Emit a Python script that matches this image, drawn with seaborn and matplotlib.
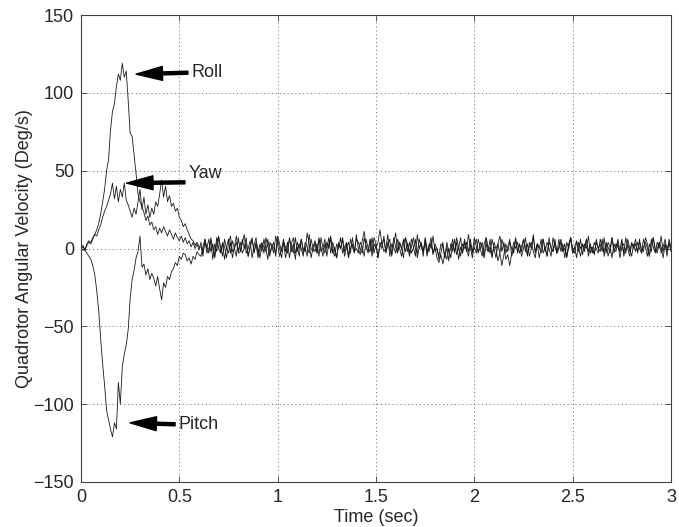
import numpy as np
import pandas as pd
import matplotlib
matplotlib.use("Agg")
import matplotlib.pyplot as plt
import seaborn as sns

DT = 0.01  # sampling interval (sec)

# Transient part, t = 0.00 .. 0.60
roll_transient = [0, 1, -1, 2, 4, 3, 6, 9, 12, 16, 22, 30, 38, 50, 57, 76, 88, 93, 104, 112,
                  108, 119, 110, 114, 95, 74, 72, 60, 48, 35, 30, 27, 23, 18, 21, 15, 17, 12, 14, 9,
                  13, 10, 14, 11, 8, 12, 9, 6, 10, 7, 5, 8, 4, 7, 3, 5, 1, 4, 0, 3, -1]
pitch_transient = [0, -1, -1, -3, -5, -7, -11, -17, -27, -40, -58, -74, -88, -104, -110, -116, -121, -112, -116, -86,
                   -100, -76, -68, -62, -52, -32, -20, -14, -6, -2, 8, -12, -10, -17, -13, -20, -16, -19, -24, -18,
                   -26, -33, -22, -25, -18, -20, -15, -13, -9, -11, -5, -7, -3, -4, -8, -6, -10, -5, -7, -2, -4]
yaw_transient = [0, 2, -1, 3, 5, 4, 7, 9, 8, 12, 15, 20, 24, 27, 31, 35, 42, 32, 40, 30,
                 38, 33, 42, 31, 28, 24, 20, 26, 22, 30, 38, 25, 33, 22, 28, 20, 26, 22, 30, 27,
                 35, 44, 33, 40, 30, 34, 27, 29, 24, 26, 20, 18, 14, 16, 12, 9, 6, 5, 2, 4, 1]

# Steady-state part, t = 0.61 .. 3.00
roll_steady = [4, -5, 6, 1, -3, 7, 0, -6, 4, 8, -2, 3, -7, 1, 6, -3, 5, 0, -5, 7,
               -2, 3, 9, -3, 0, 5, -6, 2, 7, -4, 3, -2, 6, 0, -7, 4, 1, -3, 8, 2,
               -5, 0, 6, -2, 4, -6, 3, 7, -3, 1, -5, 6, 0, -2, 10, 3, -6, 1, 5, -3,
               7, -2, 0, 6, -5, 3, 8, -3, 1, -6, 4, 0, 7, -2, 3, -5, 6, 1, -3, 9,
               0, -4, 5, 11, 1, -3, 6, -2, 7, 3, -6, 4, 0, 8, -3, 2, 6, -5, 3, 10,
               -2, 4, 0, -6, 7, 3, -3, 6, 1, -5, 9, 0, 4, -2, 6, -3, 1, 7, -4, 3,
               0, -7, -3, 4, -6, 1, -8, 3, -2, 6, -4, 0, 7, -3, 4, -2, 9, 1, -6, 3,
               6, -2, 0, 4, -5, 7, 1, -3, 6, 0, -6, 3, 8, -2, 4, -3, 1, 6, -5, 0,
               7, -3, 3, -2, 6, 1, -5, 4, 0, 9, -3, 3, -6, 1, 6, -2, 4, 0, -5, 7,
               1, -3, 6, -2, 3, -6, 4, 0, 7, -3, 1, 5, -2, 6, -4, 3, 0, 8, -3, 1,
               -4, 6, 0, 3, -2, 7, -3, 4, 1, -6, 3, 0, 6, -2, 5, -3, 7, 0, -5, 3,
               1, 6, -3, 4, 0, -2, 7, 3, -5, 6, 1, -3, 4, 0, 8, -2, 3, -5, 6, 1]
pitch_steady = [-5, 1, 6, -3, 0, 5, -7, 3, -2, 7, 1, -5, 6, 0, -3, 4, -6, 1, 8, -2,
                4, -3, 0, 7, -5, 1, 6, -2, 3, -6, 0, 4, -3, 7, 1, -5, 3, 0, -2, 6,
                0, -6, 4, 1, -3, 7, -2, 3, -7, 4, 0, 6, -3, 1, -5, 9, 0, -2, 4, -3,
                6, 1, -5, 3, 0, 7, -3, 4, -2, -6, 3, 0, 6, -5, 1, 4, -3, 7, -2, 0,
                -3, 4, 1, -5, 6, 0, -2, 7, -3, 3, -6, 1, 4, -2, 0, 9, -5, 3, 1, -3,
                6, 0, -5, 3, 7, -2, 4, -3, 0, 6, -6, 1, 3, -5, 7, 0, -2, 4, -3, 1,
                -6, -9, -4, -10, -3, -7, 0, -6, 3, -2, 4, -7, 1, -3, 6, 0, -5, 3, -2, 7,
                1, -3, 4, 0, -6, 3, -2, 6, -5, 1, 0, -8, -3, -11, -4, 3, -2, 4, 0, -3,
                6, -2, 3, -5, 0, 7, -3, 1, 4, -2, -6, 3, 0, 6, -3, 1, -5, 7, 0, -2,
                4, -3, 1, 6, -2, 0, -5, 3, 7, -3, 1, -6, 4, 0, 3, -2, 6, -5, 1, 0,
                -3, 4, 0, -2, 6, -5, 3, 1, -3, 7, 0, -2, 4, -6, 1, 3, -3, 6, 0, -5,
                3, -2, 4, 0, -3, 6, 1, -5, 3, -2, 7, 0, -3, 4, 1, -6, 3, 0, 4, -2]
yaw_steady = [1, -3, 4, 0, 6, -2, 3, -5, 7, 0, -3, 4, 1, -6, 3, 8, -2, 0, 4, -3,
              -2, 6, 0, 3, -5, 1, 7, -3, 4, 0, -6, 3, 1, -2, 6, -3, 0, 4, -5, 8,
              3, -2, 4, -6, 0, 6, 1, -3, 7, -2, 3, 0, -5, 4, 1, -3, 6, 0, -2, 3,
              -5, 7, 1, -3, 4, 0, 6, -2, -5, 3, 0, 7, -3, 1, 4, -6, 0, 3, -2, 6,
              4, 0, -3, 7, 1, -2, 6, -5, 3, 0, 4, 12, 3, 6, -2, 4, 0, -3, 7, 1,
              -3, 4, 0, 6, -2, 3, -5, 1, 7, 0, -3, 6, 1, -2, 4, -5, 3, 0, 8, -2,
              0, -5, 3, 1, -6, 4, -2, 0, 6, -3, 7, 1, -5, 3, 0, 4, -2, 6, -3, 1,
              -3, 6, 0, -5, 3, 7, -2, 1, -6, 4, 0, 3, -3, 6, 1, -7, -4, -11, -3, 4,
              0, 4, -3, 1, 6, -2, 3, -5, 0, 7, -2, 3, 1, -3, 6, 0, -5, 4, 1, -2,
              6, -3, 0, 4, -2, 3, -6, 1, 7, 0, -3, 4, 1, -5, 3, 0, 6, -2, 3, -3,
              4, 0, -3, 6, 1, -2, 4, -5, 0, 7, -3, 3, 1, -2, 6, -5, 0, 3, -2, 4,
              0, 3, -2, 6, -3, 1, 4, 0, -5, 3, 7, -2, 0, 4, -3, 1, 6, -2, 3, 0]

series_names = ["Roll", "Pitch", "Yaw"]
x_ticks = [0, 0.5, 1, 1.5, 2, 2.5, 3]
x_tick_labels = ["0", "0.5", "1", "1.5", "2", "2.5", "3"]
y_ticks = [-150, -100, -50, 0, 50, 100, 150]

# annotation anchors (data coords): arrow tip, text position
annotations = [("Roll", (0.28, 112), (0.56, 113)),
               ("Yaw", (0.232, 42), (0.545, 48)),
               ("Pitch", (0.249, -112), (0.495, -113))]

values = {"Roll": roll_transient + roll_steady,
          "Pitch": pitch_transient + pitch_steady,
          "Yaw": yaw_transient + yaw_steady}
frames = []
for name in series_names:
    v = values[name]
    frames.append(pd.DataFrame({"time": np.arange(len(v)) * DT, "value": v, "axis": name}))
df = pd.concat(frames, ignore_index=True)

sns.set_theme(style="white")
plt.rcParams["font.family"] = ["Liberation Sans", "DejaVu Sans"]

fig = plt.figure(figsize=(6.79, 5.27), dpi=100)
ax = fig.add_axes([81 / 679, 1 - 482 / 527, 590 / 679, 467 / 527])

sns.lineplot(data=df, x="time", y="value", hue="axis", units="axis", estimator=None,
             palette={n: "#1a1a1a" for n in series_names}, linewidth=0.6, legend=False, ax=ax)

ax.set_xlim(0, 3)
ax.set_ylim(-150, 150)
ax.set_xticks(x_ticks)
ax.set_xticklabels(x_tick_labels)
ax.set_yticks(y_ticks)
ax.grid(True, color="#666666", linestyle=(0, (1, 3)), linewidth=0.7)
for s in ax.spines.values():
    s.set_visible(True)
    s.set_color("#404040")
    s.set_linewidth(0.8)
ax.tick_params(direction="in", length=4, width=0.6, color="#404040",
               top=True, right=True, bottom=True, left=True, labelsize=13, pad=5)
ax.set_xlabel("Time (sec)", fontsize=13, labelpad=2)
ax.set_ylabel("Quadrotor Angular Velocity (Deg/s)", fontsize=13, labelpad=0)

for label, tip, txt in annotations:
    ax.annotate(label, xy=tip, xytext=txt, fontsize=13, va="center", ha="left",
                arrowprops=dict(facecolor="black", edgecolor="black", width=2.2,
                                headwidth=10, headlength=19, shrink=0.0))

fig.savefig("out.png", dpi=100)
